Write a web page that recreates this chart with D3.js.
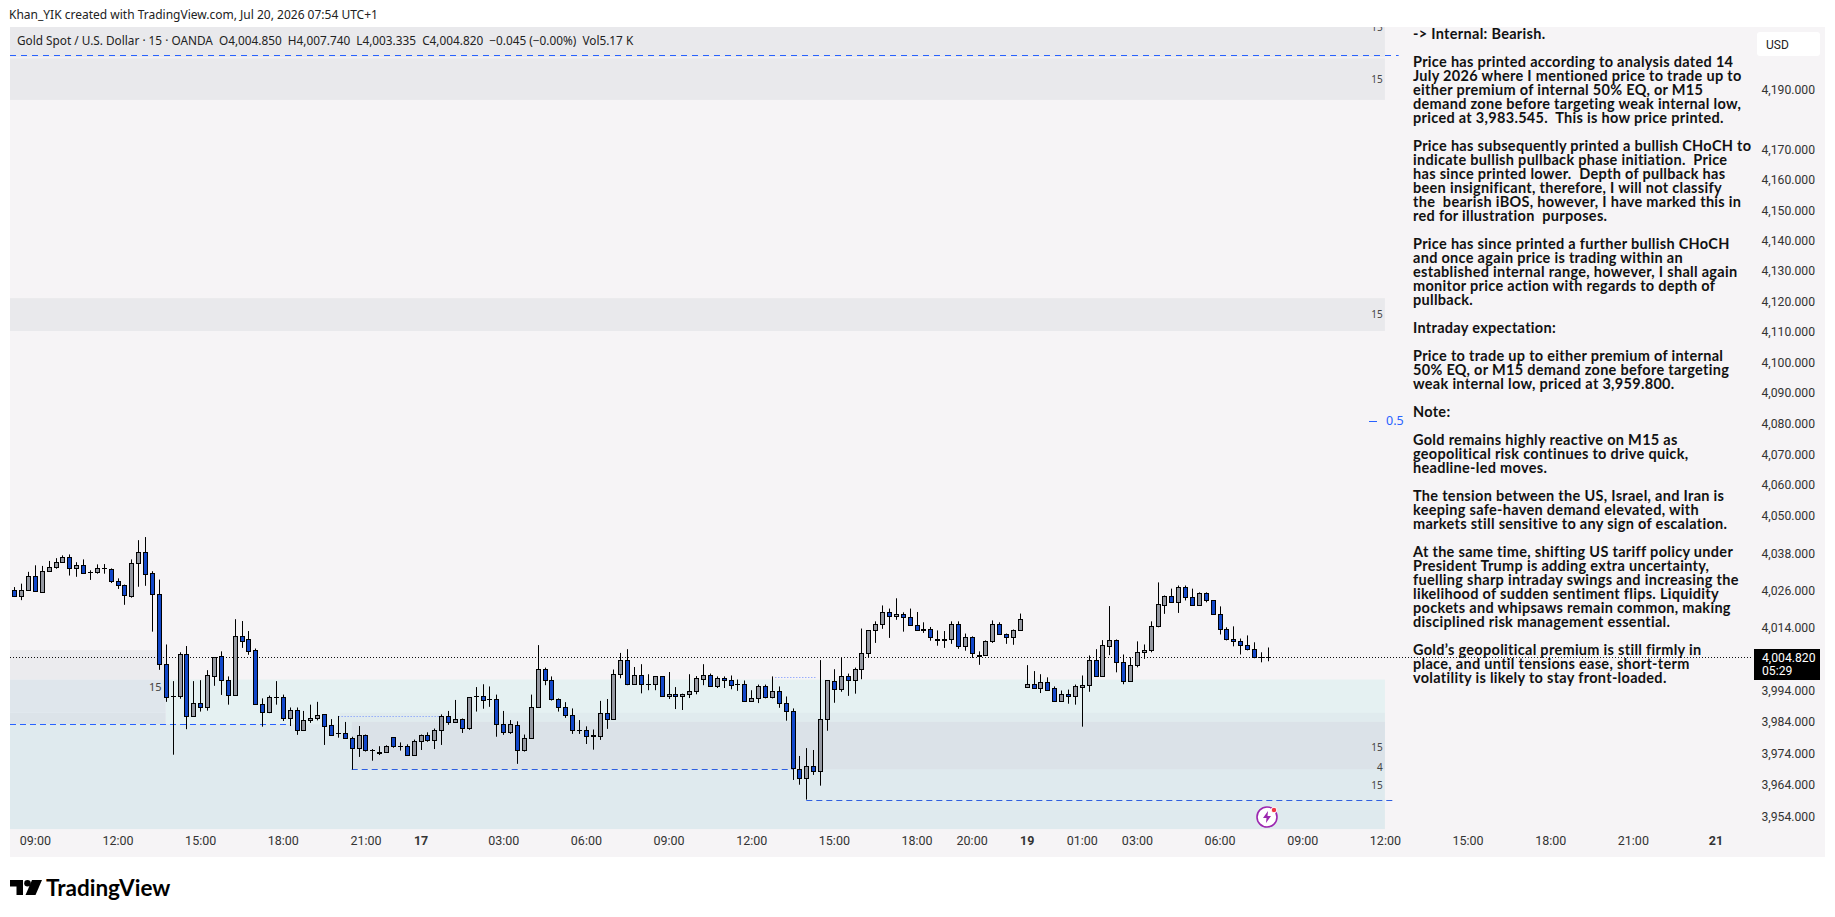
<!DOCTYPE html>
<html>
<head>
    <title>Gold Spot / U.S. Dollar</title>
    <script src="https://d3js.org/d3.v7.min.js"></script>
    <style>
        body { margin: 0; background: #fff; }
        text { font-family: "Noto Sans", Roboto, sans-serif; }
    </style>
</head>
<body>
    <svg id="chart"></svg>

    <script>
        // 15 minute bars
        const opens = [
            4026.0,4024.3,4026.0,4030.5,4025.6,4032.2,4033.5,4035.1,4036.7,4033.1,
            4034.1,4031.9,4031.9,4033.1,4032.8,4029.2,4027.9,4024.3,4034.7,4038.3,
            4031.5,4024.8,4002.6,3992.1,3992.1,4005.5,3986.0,3989.9,3988.8,3998.6,
            4004.9,3997.5,3992.7,4011.3,4010.3,4006.8,3989.6,3987.3,3991.8,3991.8,
            3985.3,3987.7,3981.6,3984.5,3985.1,3986.4,3982.9,3980.4,3980.4,3978.8,
            3975.6,3980.0,3975.0,3974.6,3974.4,3979.1,3976.3,3976.3,3973.4,3978.1,
            3980.0,3978.4,3981.3,3985.8,3983.9,3984.9,3982.0,3992.1,3992.1,3991.2,
            3991.2,3983.2,3980.7,3982.9,3975.0,3978.8,3988.6,4001.0,3997.2,3991.2,
            3988.6,3986.1,3981.6,3981.6,3979.7,3979.4,3986.7,3984.8,3999.4,4003.6,
            3996.2,3999.1,3996.2,3996.2,3998.5,3992.4,3993.0,3992.1,3993.0,3994.0,
            3997.7,3998.8,3995.5,3997.9,3997.2,3996.2,3996.2,3990.8,3991.5,3995.6,
            3991.8,3994.0,3989.9,3987.4,3969.2,3966.1,3969.9,3968.3,3984.8,3996.9,
            3994.5,3998.5,3997.4,4001.0,4005.9,4013.2,4015.1,4019.0,4017.7,4018.3,
            4017.4,4014.8,4013.2,4013.8,4010.6,4010.3,4010.3,4015.1,4008.1,4011.0,
            4005.4,4005.2,4009.7,4015.4,4011.9,4011.0,4013.2,3995.2,3996.2,3994.8,
            3996.6,3994.7,3990.8,3993.0,3992.4,3995.2,3995.9,4003.6,3998.5,4008.3,
            4010.0,4003.0,3996.9,4002.1,4006.2,4006.8,4014.5,4021.5,4024.1,4022.2,
            4027.0,4023.8,4021.2,4025.1,4022.8,4018.6,4013.8,4010.6,4009.7,4008.4,
            4007.4,4004.6,4004.85
        ];
        const highs = [
            4027.1,4028.2,4032.0,4034.1,4033.9,4035.5,4036.4,4037.3,4037.6,4035.1,
            4036.0,4032.5,4034.4,4034.5,4033.1,4029.9,4027.9,4036.0,4042.2,4043.2,
            4032.2,4029.5,4008.7,3997.0,4006.2,4008.2,3997.0,3997.3,4000.5,4004.6,
            4006.5,3998.5,4016.8,4016.2,4013.0,4007.4,3991.5,3992.4,3997.0,3992.7,
            3988.6,3988.6,3987.5,3989.5,3990.4,3986.4,3984.9,3985.9,3984.0,3979.3,
            3982.7,3980.0,3975.4,3976.3,3976.6,3979.1,3977.5,3976.9,3978.4,3980.0,
            3980.7,3981.9,3986.4,3987.5,3991.0,3985.1,3991.8,3995.1,3996.0,3995.3,
            3992.7,3987.5,3984.6,3984.2,3980.0,3992.7,4008.5,4001.3,3998.5,3991.5,
            3990.3,3988.3,3984.6,3982.6,3981.6,3990.7,3991.3,4000.7,4006.0,4007.2,
            4001.5,4002.4,3999.2,3998.5,3998.5,3999.9,3995.1,3993.0,3999.2,3998.6,
            4002.4,3999.4,3998.5,3998.5,3998.8,3997.5,3997.2,3994.1,3995.9,3995.9,
            3998.5,3995.3,3992.1,3988.3,3973.2,3975.7,3975.1,4003.7,3997.2,4000.8,
            4004.4,3999.4,4001.3,4013.8,4013.2,4016.1,4021.2,4020.2,4023.5,4019.0,
            4020.2,4019.1,4015.8,4014.3,4013.2,4013.0,4016.1,4016.1,4012.2,4011.3,
            4006.5,4010.0,4016.4,4015.8,4012.2,4013.5,4018.6,4002.1,4000.2,3999.2,
            3998.2,3995.3,3994.0,3994.3,3995.9,3998.8,4005.2,4007.2,4010.1,4021.0,
            4010.3,4005.5,4004.6,4009.7,4008.7,4016.1,4028.6,4024.4,4026.6,4027.6,
            4027.6,4026.6,4025.4,4025.4,4022.8,4020.9,4014.2,4014.5,4010.6,4011.6,
            4009.4,4006.2,4007.74
        ];
        const lows = [
            4023.9,4022.9,4025.9,4025.6,4025.2,4032.2,4033.0,4035.1,4030.8,4030.4,
            4031.5,4029.4,4031.4,4031.4,4028.4,4026.5,4021.4,4023.7,4027.2,4027.5,
            4012.8,4000.6,3990.4,3973.6,3991.4,3981.7,3986.0,3987.3,3987.6,3995.5,
            3992.6,3989.5,3992.7,4007.6,4005.4,3989.6,3982.5,3986.8,3989.5,3984.3,
            3982.7,3979.9,3981.3,3983.7,3984.5,3976.7,3979.6,3979.0,3978.8,3968.9,
            3972.9,3974.6,3971.7,3973.5,3974.4,3975.8,3974.9,3973.4,3973.4,3975.1,
            3977.7,3975.4,3976.7,3983.1,3983.9,3980.5,3981.5,3987.3,3988.2,3988.8,
            3979.3,3979.9,3980.2,3970.7,3974.6,3978.8,3988.6,3995.7,3990.8,3987.3,
            3985.3,3980.2,3980.2,3977.0,3975.2,3978.3,3981.8,3984.8,3997.9,3995.7,
            3996.2,3993.1,3994.1,3994.1,3992.4,3991.3,3988.1,3987.8,3991.6,3992.8,
            3995.7,3995.2,3994.8,3994.8,3994.4,3993.9,3990.5,3990.5,3990.0,3991.5,
            3991.5,3988.5,3984.4,3965.6,3964.1,3959.4,3967.2,3963.8,3981.2,3990.1,
            3993.6,3992.3,3993.0,3997.6,4004.6,4009.2,4013.7,4010.8,4016.6,4012.8,
            4014.8,4013.2,4012.4,4009.9,4008.3,4007.6,4008.9,4007.3,4006.7,4004.4,
            4002.2,4005.2,4009.2,4011.9,4008.9,4008.6,4013.2,3994.8,3994.8,3993.2,
            3994.2,3990.8,3990.8,3989.8,3989.5,3982.5,3993.6,3998.5,3998.5,4005.3,
            3999.8,3996.0,3996.9,4001.4,4004.1,4006.2,4014.2,4018.5,4022.2,4018.8,
            4022.8,4021.2,4021.2,4022.2,4018.6,4011.9,4010.0,4008.1,4005.5,4006.8,
            4004.3,4003.0,4003.335
        ];
        const closes = [
            4024.3,4026.0,4030.6,4025.7,4032.2,4033.5,4035.1,4036.7,4033.1,4034.1,
            4031.5,4031.9,4033.1,4033.1,4029.2,4027.9,4024.4,4034.7,4038.3,4031.4,
            4024.8,4002.6,3992.0,3992.1,4005.5,3986.0,3989.9,3988.8,3999.1,4004.6,
            3997.4,3992.7,4011.3,4009.9,4006.7,3989.6,3987.3,3991.8,3991.8,3985.3,
            3987.7,3981.6,3984.5,3985.1,3986.1,3982.8,3979.9,3980.4,3978.8,3975.6,
            3979.7,3975.0,3975.0,3974.4,3976.3,3976.3,3976.3,3973.4,3978.1,3980.0,
            3978.4,3981.3,3985.8,3983.9,3984.9,3982.0,3991.8,3992.1,3990.9,3991.2,
            3983.2,3980.7,3983.2,3975.0,3978.8,3988.6,4001.0,3997.2,3991.2,3988.6,
            3986.1,3981.6,3981.6,3979.4,3979.4,3986.7,3984.8,3999.4,4003.6,3996.2,
            3999.1,3996.2,3996.2,3998.5,3992.4,3993.0,3992.1,3993.0,3994.0,3997.9,
            3998.8,3995.5,3997.9,3997.2,3995.9,3996.2,3990.8,3991.5,3995.6,3991.8,
            3994.0,3989.9,3987.4,3969.4,3966.1,3969.9,3968.3,3984.8,3997.2,3994.5,
            3998.5,3997.4,4001.0,4005.9,4013.2,4015.1,4019.0,4017.7,4018.3,4017.4,
            4014.8,4013.2,4013.8,4011.0,4010.0,4010.0,4015.1,4008.1,4011.0,4005.9,
            4005.3,4009.7,4015.1,4011.9,4011.0,4013.2,4017.0,3996.2,3994.8,3996.6,
            3994.2,3990.8,3993.0,3992.4,3995.3,3995.9,4003.6,3998.5,4008.4,4010.0,
            4003.0,3996.9,4002.1,4006.2,4006.8,4014.5,4021.8,4024.1,4022.2,4027.0,
            4023.8,4021.2,4025.1,4022.8,4018.6,4013.5,4010.6,4009.7,4008.4,4007.1,
            4004.6,4004.6,4004.82
        ];

        // Axis labels
        const priceTicks = [4190,4170,4160,4150,4140,4130,4120,4110,4100,4090,4080,4070,4060,4050,4038,4026,4014,3994,3984,3974,3964,3954];
        const timeBars = [3,15,27,39,51,59,71,83,95,107,119,131,139,147,155,163,175,187,199,211,223,235,247];
        const timeLabels = ["09:00","12:00","15:00","18:00","21:00","17","03:00","06:00","09:00","12:00","15:00","18:00","20:00","19","01:00","03:00","06:00","09:00","12:00","15:00","18:00","21:00","21"];
        const dayLabels = ["17","19","21"];

        // Zones: first bar, last bar, top price, bottom price, colour
        const zones = [
            [-1, 199, 4212, 4201, "#e9e9ec"],
            [-1, 199, 4200.6, 4186.7, "#e9e9ec"],
            [-1, 199, 4121, 4110.2, "#e9e9ec"],
            [-1, 22, 4006.9, 3997.5, "#ebebee"],
            [22, 199, 3997.5, 3983.3, "#e5f1f2"],
            [-1, 22, 3997.5, 3986.9, "#dfe6ec"],
            [-1, 22, 3986.9, 3983.3, "#dce3e9"],
            [-1, 199, 3983.3, 3950.1, "#dfeaee"],
            [47.3, 199, 3986.9, 3983.3, "#e0ebee"],
            [49, 199, 3984, 3969, "#dbe2e8"]
        ];

        // Drawn levels: first bar, last bar, price, colour, dash
        const levels = [
            [-1, 201, 4201.7, "#2962ff", "6 5"],
            [-1, 40, 3983.2, "#2962ff", "6 4"],
            [49, 113, 3969, "#2f5fe0", "6 4"],
            [115, 200.5, 3959.4, "#2f5fe0", "6 4"],
            [47.1, 62, 3986, "#6d8dff", "1 2"],
            [110.5, 116.5, 3998.4, "#6d8dff", "1 2"]
        ];

        // Small number labels on the zones: bar, price, text
        const zoneLabels = [
            [198.4, 4211, "15"],
            [198.4, 4193.5, "15"],
            [198.4, 4115.5, "15"],
            [198.4, 3976, "15"],
            [198.4, 3969.5, "4"],
            [198.4, 3963.8, "15"]
        ];

        const panelLines = [
            "-> Internal: Bearish.",
            "",
            "Price has printed according to analysis dated 14",
            "July 2026 where I mentioned price to trade up to",
            "either premium of internal 50% EQ, or M15",
            "demand zone before targeting weak internal low,",
            "priced at 3,983.545.  This is how price printed.",
            "",
            "Price has subsequently printed a bullish CHoCH to",
            "indicate bullish pullback phase initiation.  Price",
            "has since printed lower.  Depth of pullback has",
            "been insignificant, therefore, I will not classify",
            "the  bearish iBOS, however, I have marked this in",
            "red for illustration  purposes.",
            "",
            "Price has since printed a further bullish CHoCH",
            "and once again price is trading within an",
            "established internal range, however, I shall again",
            "monitor price action with regards to depth of",
            "pullback.",
            "",
            "Intraday expectation:",
            "",
            "Price to trade up to either premium of internal",
            "50% EQ, or M15 demand zone before targeting",
            "weak internal low, priced at 3,959.800.",
            "",
            "Note:",
            "",
            "Gold remains highly reactive on M15 as",
            "geopolitical risk continues to drive quick,",
            "headline-led moves.",
            "",
            "The tension between the US, Israel, and Iran is",
            "keeping safe-haven demand elevated, with",
            "markets still sensitive to any sign of escalation.",
            "",
            "At the same time, shifting US tariff policy under",
            "President Trump is adding extra uncertainty,",
            "fuelling sharp intraday swings and increasing the",
            "likelihood of sudden sentiment flips. Liquidity",
            "pockets and whipsaws remain common, making",
            "disciplined risk management essential.",
            "",
            "Gold’s geopolitical premium is still firmly in",
            "place, and until tensions ease, short-term",
            "volatility is likely to stay front-loaded."
        ];

        const bars = opens.map((o, i) => ({ i, o, h: highs[i], l: lows[i], c: closes[i] }));

        let width = 1835, height = 917;
        const svg = d3.select("#chart")
            .attr("width", width)
            .attr("height", height)
            .style("display", "block");

        // Bar number to pixels, price is on a log axis
        const x = d3.scaleLinear().domain([0, 182]).range([14.2, 1267.8]);
        const y = d3.scaleLog().domain([3954, 4190]).range([816.7, 90]);

        // Chart background
        svg.append("rect")
            .attr("x", 10).attr("y", 27)
            .attr("width", 1815).attr("height", 830)
            .attr("fill", "#f6f4f6");

        svg.append("clipPath").attr("id", "plot")
            .append("rect").attr("x", 10).attr("y", 27).attr("width", 1400).attr("height", 803);

        const plot = svg.append("g").attr("clip-path", "url(#plot)");

        plot.append("g").selectAll("rect")
            .data(zones)
            .join("rect")
                .attr("x", d => Math.max(10, x(d[0])))
                .attr("width", d => x(d[1]) - Math.max(10, x(d[0])))
                .attr("y", d => y(d[2]))
                .attr("height", d => y(d[3]) - y(d[2]))
                .attr("fill", d => d[4]);

        plot.append("g").selectAll("line")
            .data(levels)
            .join("line")
                .attr("x1", d => Math.max(10, x(d[0])))
                .attr("x2", d => x(d[1]))
                .attr("y1", d => Math.round(y(d[2])) + 0.5)
                .attr("y2", d => Math.round(y(d[2])) + 0.5)
                .attr("stroke", d => d[3])
                .attr("stroke-width", 1)
                .attr("stroke-dasharray", d => d[4]);

        // Last price line
        const lastY = Math.round(y(closes[closes.length - 1])) + 0.5;
        svg.append("line")
            .attr("x1", 10).attr("x2", 1752)
            .attr("y1", lastY).attr("y2", lastY)
            .attr("stroke", "#111")
            .attr("stroke-dasharray", "1 2");

        plot.append("g").selectAll("text")
            .data(zoneLabels)
            .join("text")
                .attr("x", d => x(d[0]) + 2)
                .attr("y", d => y(d[1]))
                .attr("dy", "0.35em")
                .attr("text-anchor", "end")
                .attr("font-size", 10)
                .attr("fill", "#444")
                .text(d => d[2]);

        svg.append("text")
            .attr("x", x(21.4)).attr("y", y(3995))
            .attr("dy", "0.35em")
            .attr("text-anchor", "end")
            .attr("font-size", 11)
            .attr("fill", "#444")
            .text("15");

        // Fib level tick
        svg.append("line")
            .attr("x1", 1369).attr("x2", 1377)
            .attr("y1", Math.round(y(4080.9)) + 0.5).attr("y2", Math.round(y(4080.9)) + 0.5)
            .attr("stroke", "#2962ff");
        svg.append("text")
            .attr("x", 1386).attr("y", y(4080.9))
            .attr("dy", "0.36em")
            .attr("font-size", 12.5)
            .attr("fill", "#2962ff")
            .text("0.5");

        // Candles
        const candle = svg.append("g").selectAll("g")
            .data(bars)
            .join("g")
                .attr("transform", d => `translate(${Math.round(x(d.i)) + 0.5},0)`);

        candle.append("line")
            .attr("y1", d => y(d.h))
            .attr("y2", d => y(d.l))
            .attr("stroke", "#000")
            .attr("stroke-width", 1);

        // Bars that close where they opened are only a tick
        candle.filter(d => Math.abs(d.c - d.o) < 0.05).append("line")
            .attr("x1", -2.5).attr("x2", 2.5)
            .attr("y1", d => Math.round(y(d.o)) + 0.5)
            .attr("y2", d => Math.round(y(d.o)) + 0.5)
            .attr("stroke", "#000");

        candle.filter(d => Math.abs(d.c - d.o) >= 0.05).append("rect")
            .attr("x", -2)
            .attr("width", 4)
            .attr("y", d => Math.round(y(Math.max(d.o, d.c))) + 0.5)
            .attr("height", d => Math.max(1, Math.round(y(Math.min(d.o, d.c))) - Math.round(y(Math.max(d.o, d.c)))))
            .attr("fill", d => d.c >= d.o ? "#9598a1" : "#1247c9")
            .attr("stroke", "#000")
            .attr("stroke-width", 1);

        // Price axis
        const yAxis = svg.append("g")
            .attr("transform", "translate(1815,0)")
            .call(d3.axisLeft(y).tickValues(priceTicks).tickSize(0).tickPadding(0).tickFormat(d3.format(",.3f")));
        yAxis.select(".domain").remove();
        yAxis.selectAll("text")
            .style("font-family", "Roboto, sans-serif")
            .attr("font-size", 12.2)
            .attr("fill", "#333");

        // Time axis
        const xAxis = svg.append("g")
            .attr("transform", "translate(0,836.5)")
            .call(d3.axisBottom(x).tickValues(timeBars).tickSize(0).tickPadding(0).tickFormat((d, i) => timeLabels[i]));
        xAxis.select(".domain").remove();
        xAxis.selectAll("text")
            .style("font-family", "Roboto, sans-serif")
            .attr("font-size", 12.5)
            .attr("fill", "#333")
            .attr("font-weight", (d, i) => dayLabels.includes(timeLabels[i]) ? "700" : "400");

        // Text note on the right
        svg.append("g").selectAll("text")
            .data(panelLines)
            .join("text")
                .attr("x", 1413)
                .attr("y", (d, i) => 34 + i * 14)
                .attr("dy", "0.36em")
                .attr("font-size", 14.5)
                .attr("font-weight", 700)
                .attr("letter-spacing", 0.3)
                .attr("fill", "#111")
                .style("font-family", "Lato, sans-serif")
                .style("white-space", "pre")
                .text(d => d);

        // Last price tag
        svg.append("rect")
            .attr("x", 1754).attr("y", 649)
            .attr("width", 66).attr("height", 31)
            .attr("fill", "#000");
        svg.append("text")
            .attr("x", 1762).attr("y", 657.3)
            .attr("dy", "0.36em")
            .attr("font-size", 12.2)
            .attr("fill", "#fff")
            .style("font-family", "Roboto, sans-serif")
            .text(d3.format(",.3f")(closes[closes.length - 1]));
        svg.append("text")
            .attr("x", 1762).attr("y", 670.7)
            .attr("dy", "0.36em")
            .attr("font-size", 12.2)
            .attr("fill", "#fff")
            .style("font-family", "Roboto, sans-serif")
            .text("05:29");

        // Currency button
        svg.append("rect")
            .attr("x", 1757).attr("y", 32)
            .attr("width", 63).attr("height", 24)
            .attr("rx", 3)
            .attr("fill", "#fff");
        svg.append("text")
            .attr("x", 1766).attr("y", 44.5)
            .attr("dy", "0.36em")
            .attr("font-size", 12)
            .attr("fill", "#222")
            .style("font-family", "Roboto, sans-serif")
            .text("USD");

        // Header and legend
        svg.append("text")
            .attr("x", 9).attr("y", 15)
            .attr("dy", "0.36em")
            .attr("font-size", 12)
            .attr("fill", "#222")
            .text("Khan_YIK created with TradingView.com, Jul 20, 2026 07:54 UTC+1");
        svg.append("text")
            .attr("x", 17).attr("y", 41)
            .attr("dy", "0.36em")
            .attr("font-size", 11.8)
            .attr("fill", "#222")
            .style("white-space", "pre")
            .text("Gold Spot / U.S. Dollar · 15 · OANDA  O4,004.850  H4,007.740  L4,003.335  C4,004.820  −0.045 (−0.00%)  Vol5.17 K");

        // Alert icon
        const icon = svg.append("g").attr("transform", "translate(1267,817)");
        icon.append("circle").attr("r", 10).attr("fill", "#fff").attr("stroke", "#9c27b0").attr("stroke-width", 1.6);
        icon.append("path").attr("d", "M1,-6 L-4,1 L-0.5,1 L-1,6 L4,-1 L0.5,-1 Z").attr("fill", "#9c27b0");
        icon.append("circle").attr("cx", 7).attr("cy", -7).attr("r", 2.8).attr("fill", "#f23645").attr("stroke", "#fff");

        // TradingView logo
        const logo = svg.append("g").attr("transform", "translate(10,880)").attr("fill", "#000");
        logo.append("path").attr("d", "M0,0 H13 V15 H6.5 V6.5 H0 Z");
        logo.append("circle").attr("cx", 17.5).attr("cy", 3.3).attr("r", 3.3);
        logo.append("path").attr("d", "M22,0 H32 L25.5,15 H15.5 Z");
        svg.append("text")
            .attr("x", 46).attr("y", 888)
            .attr("dy", "0.36em")
            .attr("font-size", 22.5)
            .attr("font-weight", 700)
            .attr("fill", "#000")
            .style("font-family", "Lato, sans-serif")
            .text("TradingView");
    </script>
</body>
</html>
